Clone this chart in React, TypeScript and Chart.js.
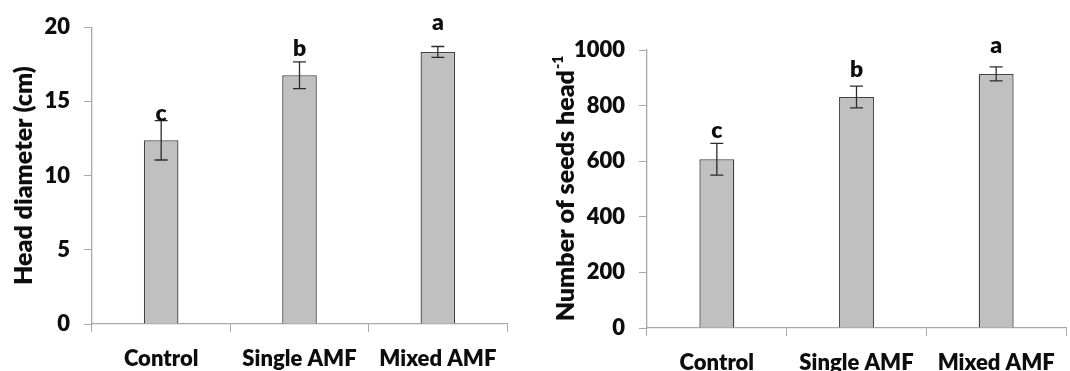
import React, { useEffect, useRef } from "react";
import { Chart, registerables } from "chart.js";

Chart.register(...registerables);

const categories = ["Control", "Single AMF", "Mixed AMF"];

const diameterValues = [12.38, 16.76, 18.33];
const diameterErrors = [1.33, 0.9, 0.37];
const diameterLetters = ["c", "b", "a"];
const diameterLetterAnchors = [13.7, 18.07, 19.8];
const diameterTicks = [0, 5, 10, 15, 20];

const seedsValues = [607, 831, 914];
const seedsErrors = [57, 39, 25];
const seedsLetters = ["c", "b", "a"];
const seedsLetterAnchors = [683, 903, 989];
const seedsTicks = [0, 200, 400, 600, 800, 1000];

const FONT = "Lato, 'Open Sans', sans-serif";
const WEIGHT = "800";
const AXIS_COLOR = "#a8a8a8";
const TEXT_COLOR = "#0d0d0d";

type Cfg = {
  values: number[];
  errors: number[];
  letters: string[];
  letterAnchors: number[];
  ticks: number[];
  title: string;
  sup: string;
  width: number;
  padTop: number;
  padRight: number;
  yWidth: number;
  xHeight: number;
  titleX: number;
};

const overlayPlugin = {
  id: "overlay",
  afterDatasetsDraw(chart: any, _args: any, opts: any) {
    const ctx = chart.ctx;
    const x = chart.scales.x;
    const y = chart.scales.y;
    ctx.save();
    // error bars
    ctx.strokeStyle = "#2b2b2b";
    ctx.lineWidth = 1.3;
    opts.values.forEach((v: number, i: number) => {
      const cx = x.getPixelForValue(i);
      const top = y.getPixelForValue(v + opts.errors[i]);
      const bot = y.getPixelForValue(v - opts.errors[i]);
      ctx.beginPath();
      ctx.moveTo(cx, top);
      ctx.lineTo(cx, bot);
      ctx.moveTo(cx - 6.5, top);
      ctx.lineTo(cx + 6.5, top);
      ctx.moveTo(cx - 6.5, bot);
      ctx.lineTo(cx + 6.5, bot);
      ctx.stroke();
    });
    // letters
    ctx.fillStyle = TEXT_COLOR;
    ctx.font = `${WEIGHT} 23px ${FONT}`;
    ctx.textAlign = "center";
    ctx.textBaseline = "alphabetic";
    opts.letters.forEach((l: string, i: number) => {
      ctx.fillText(l, x.getPixelForValue(i), y.getPixelForValue(opts.letterAnchors[i]));
    });
    // y title
    const area = chart.chartArea;
    const cy = (area.top + area.bottom) / 2;
    ctx.translate(opts.titleX, cy);
    ctx.rotate(-Math.PI / 2);
    ctx.font = `${WEIGHT} 25px ${FONT}`;
    const w = ctx.measureText(opts.title).width;
    ctx.font = `${WEIGHT} 14px ${FONT}`;
    const ws = opts.sup ? ctx.measureText(opts.sup).width : 0;
    const start = -(w + ws) / 2;
    ctx.textAlign = "left";
    ctx.textBaseline = "middle";
    ctx.font = `${WEIGHT} 25px ${FONT}`;
    ctx.fillText(opts.title, start, 0);
    if (opts.sup) {
      ctx.font = `${WEIGHT} 14px ${FONT}`;
      ctx.fillText(opts.sup, start + w + 1, -8);
    }
    ctx.restore();
  },
};

function BarPanel(props: { cfg: Cfg }) {
  const ref = useRef<HTMLCanvasElement | null>(null);
  useEffect(() => {
    const c = props.cfg;
    if (!ref.current) return;
    const chart = new Chart(ref.current, {
      type: "bar",
      data: {
        labels: categories,
        datasets: [
          {
            data: c.values,
            backgroundColor: "#c0c0c0",
            borderColor: "#404040",
            borderWidth: 1.3,
            categoryPercentage: 1,
            barPercentage: 0.25,
          },
        ],
      },
      plugins: [overlayPlugin],
      options: {
        responsive: false,
        animation: false,
        devicePixelRatio: 1,
        layout: { padding: { top: c.padTop, right: c.padRight, left: 0, bottom: 0 } },
        plugins: {
          legend: { display: false },
          tooltip: { enabled: false },
          overlay: {
            values: c.values,
            errors: c.errors,
            letters: c.letters,
            letterAnchors: c.letterAnchors,
            title: c.title,
            sup: c.sup,
            titleX: c.titleX,
          },
        } as any,
        scales: {
          x: {
            offset: true,
            grid: {
              display: true,
              offset: true,
              drawOnChartArea: false,
              drawTicks: true,
              tickLength: 8,
              color: AXIS_COLOR,
            },
            border: { display: true, color: AXIS_COLOR, width: 1.3 },
            ticks: {
              color: TEXT_COLOR,
              font: { family: FONT, size: 22, weight: WEIGHT },
              padding: 14,
              maxRotation: 0,
              autoSkip: false,
            },
            afterFit: (s: any) => {
              s.height = c.xHeight;
            },
          },
          y: {
            min: c.ticks[0],
            max: c.ticks[c.ticks.length - 1],
            afterBuildTicks: (s: any) => {
              s.ticks = c.ticks.map((v) => ({ value: v }));
            },
            grid: {
              display: true,
              drawOnChartArea: false,
              drawTicks: true,
              tickLength: 8,
              color: AXIS_COLOR,
            },
            border: { display: true, color: AXIS_COLOR, width: 1.3 },
            ticks: {
              color: TEXT_COLOR,
              font: { family: FONT, size: 22, weight: WEIGHT },
              padding: 14,
              callback: (v: any) => String(v),
            },
            afterFit: (s: any) => {
              s.width = c.yWidth;
            },
          },
        },
      } as any,
    });
    return () => chart.destroy();
  }, [props.cfg]);
  return <canvas ref={ref} width={props.cfg.width} height={371} style={{ display: "block" }} />;
}

const leftCfg: Cfg = {
  values: diameterValues,
  errors: diameterErrors,
  letters: diameterLetters,
  letterAnchors: diameterLetterAnchors,
  ticks: diameterTicks,
  title: "Head diameter (cm)",
  sup: "",
  width: 530,
  padTop: 24,
  padRight: 23,
  yWidth: 92,
  xHeight: 47,
  titleX: 24,
};

const rightCfg: Cfg = {
  values: seedsValues,
  errors: seedsErrors,
  letters: seedsLetters,
  letterAnchors: seedsLetterAnchors,
  ticks: seedsTicks,
  title: "Number of seeds head",
  sup: "-1",
  width: 540,
  padTop: 50,
  padRight: 4,
  yWidth: 117,
  xHeight: 43,
  titleX: 36,
};

export default function App() {
  return (
    <div
      style={{
        position: "fixed",
        left: 0,
        top: 0,
        width: 1070,
        height: 371,
        background: "#ffffff",
        overflow: "hidden",
      }}
    >
      <div style={{ position: "absolute", left: 0, top: 0 }}>
        <BarPanel cfg={leftCfg} />
      </div>
      <div style={{ position: "absolute", left: 530, top: 0 }}>
        <BarPanel cfg={rightCfg} />
      </div>
    </div>
  );
}
